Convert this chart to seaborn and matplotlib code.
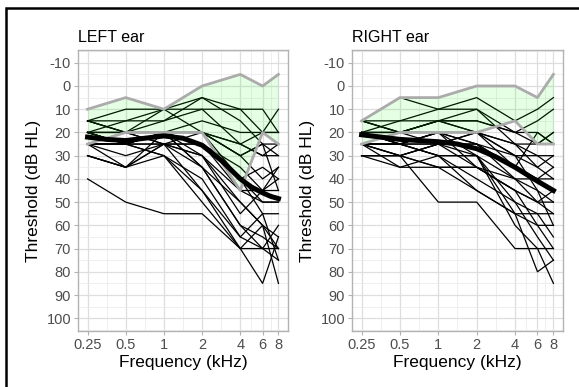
import matplotlib
matplotlib.use("Agg")
import matplotlib.pyplot as plt
import pandas as pd
import seaborn as sns
from matplotlib.patches import Rectangle
from matplotlib.ticker import NullFormatter

# frequencies (kHz) of the audiogram
freqs = [0.25, 0.5, 1, 2, 4, 6, 8]
tick_labels = ["0.25", "0.5", "1", "2", "4", "6", "8"]

# individual thresholds (dB HL), one list per participant
left_ear = [
    [15, 10, 10, 10, 10, 10, 20],
    [15, 15, 10, 5, 10, 20, 10],
    [20, 15, 15, 5, 15, 25, 25],
    [15, 20, 15, 10, 25, 20, 20],
    [20, 20, 20, 15, 20, 20, 20],
    [20, 25, 20, 20, 25, 30, 25],
    [25, 25, 20, 20, 30, 25, 30],
    [20, 20, 25, 25, 35, 45, 45],
    [25, 25, 25, 20, 40, 50, 50],
    [25, 30, 25, 30, 45, 50, 50],
    [20, 25, 20, 35, 50, 60, 65],
    [30, 35, 25, 30, 55, 45, 40],
    [25, 35, 20, 35, 60, 65, 70],
    [30, 35, 30, 40, 65, 70, 75],
    [20, 25, 25, 45, 70, 85, 65],
    [25, 20, 20, 25, 45, 45, 35],
    [40, 50, 55, 55, 70, 70, 70],
    [25, 25, 30, 45, 65, 55, 75],
    [20, 25, 20, 30, 50, 60, 85],
    [15, 20, 25, 35, 60, 70, 60],
    [25, 25, 30, 50, 70, 60, 70],
    [20, 20, 20, 25, 40, 35, 40],
    [25, 25, 20, 20, 30, 40, 35],
    [20, 25, 20, 20, 25, 30, 30],
    [30, 35, 25, 25, 40, 55, 55],
    [15, 20, 10, 20, 30, 25, 45],
]
right_ear = [
    [15, 15, 10, 5, 15, 10, 5],
    [15, 5, 10, 10, 20, 15, 10],
    [20, 15, 15, 15, 20, 25, 20],
    [15, 20, 15, 15, 20, 20, 25],
    [20, 25, 20, 20, 25, 25, 20],
    [25, 25, 25, 20, 30, 30, 35],
    [25, 30, 25, 25, 35, 40, 40],
    [30, 30, 35, 35, 45, 50, 50],
    [20, 25, 30, 45, 55, 55, 55],
    [25, 35, 35, 35, 40, 40, 35],
    [30, 30, 50, 50, 70, 70, 70],
    [25, 25, 20, 30, 55, 80, 75],
    [20, 25, 25, 30, 60, 70, 85],
    [25, 30, 25, 25, 40, 45, 60],
    [20, 20, 20, 25, 35, 40, 45],
    [25, 25, 20, 35, 45, 60, 70],
    [30, 35, 30, 30, 50, 55, 65],
    [20, 20, 25, 20, 25, 35, 30],
    [25, 25, 30, 40, 50, 65, 75],
    [15, 20, 15, 20, 30, 35, 40],
    [25, 30, 25, 35, 45, 50, 55],
    [20, 25, 20, 25, 30, 45, 50],
    [25, 25, 30, 30, 40, 50, 45],
    [20, 20, 15, 20, 35, 20, 25],
    [30, 30, 35, 45, 55, 60, 60],
    [15, 20, 15, 10, 25, 30, 30],
]

# normal range (grey bounds, green band)
left_upper = [10, 5, 10, 0, -5, 0, -5]
left_lower = [25, 20, 20, 20, 45, 20, 25]
right_upper = [15, 5, 5, 0, 0, 5, -5]
right_lower = [25, 20, 20, 20, 15, 25, 25]

smooth_freqs = [0.25, 0.354, 0.5, 0.707, 1, 1.414, 2, 2.828, 4, 4.9, 6, 6.93, 8]
left_smooth = [22, 23, 23.5, 22.5, 21.5, 22.5, 25.5, 32, 40, 43.5, 46, 47.5, 48.5]
right_smooth = [21, 22, 23, 23.5, 24, 25, 27, 30.5, 35, 38, 41, 43, 45]

plt.rcParams["font.family"] = ["Liberation Sans", "DejaVu Sans"]
plt.rcParams["axes.unicode_minus"] = False

fig = plt.figure(figsize=(5.79, 3.87), dpi=100)
ax_l = fig.add_axes([78 / 579, 56 / 387, 210 / 579, 281 / 387])
ax_r = fig.add_axes([352 / 579, 56 / 387, 211 / 579, 281 / 387])

minor_x = [0.354, 0.707, 1.414, 2.828, 4.899, 6.928]
minor_y = list(range(-15, 110, 10))

panels = [
    (ax_l, "LEFT ear", left_ear, left_upper, left_lower, left_smooth),
    (ax_r, "RIGHT ear", right_ear, right_upper, right_lower, right_smooth),
]

for ax, title, ear, upper, lower, smooth in panels:
    rows = []
    for i, person in enumerate(ear):
        for f, v in zip(freqs, person):
            rows.append({"id": i, "freq": f, "db": v})
    df = pd.DataFrame(rows)
    sns.lineplot(
        data=df, x="freq", y="db", units="id", estimator=None,
        color="black", linewidth=0.9, ax=ax, zorder=3, sort=False,
    )
    ax.fill_between(freqs, upper, lower, color="#00ff00", alpha=0.1,
                    linewidth=0, zorder=4)
    sns.lineplot(x=freqs, y=upper, color="#ababab", linewidth=2, ax=ax, zorder=5)
    sns.lineplot(x=freqs, y=lower, color="#ababab", linewidth=2, ax=ax, zorder=5)
    sns.lineplot(x=smooth_freqs, y=smooth, color="black", linewidth=3.6,
                 ax=ax, zorder=6)

    ax.set_xscale("log", base=2)
    ax.set_xlim(0.25 * 2 ** -0.25, 8 * 2 ** 0.25)
    ax.set_ylim(105.5, -15.5)
    ax.set_xticks(freqs)
    ax.set_xticklabels(tick_labels)
    ax.set_xticks(minor_x, minor=True)
    ax.xaxis.set_minor_formatter(NullFormatter())
    ax.set_yticks(range(-10, 101, 10))
    ax.set_yticks(minor_y, minor=True)
    ax.yaxis.set_minor_formatter(NullFormatter())
    ax.tick_params(which="minor", length=0)
    ax.tick_params(which="major", length=3, width=0.8, color="#b3b3b3",
                   labelsize=10.5, labelcolor="#4d4d4d", pad=2)
    ax.grid(which="major", color="#dedede", linewidth=0.9, zorder=0)
    ax.grid(which="minor", color="#ececec", linewidth=0.6, zorder=0)
    ax.set_axisbelow(True)
    for s in ax.spines.values():
        s.set_color("#b3b3b3")
        s.set_linewidth(1.0)
    ax.set_xlabel("Frequency (kHz)", fontsize=12.5, labelpad=2)
    ax.set_ylabel("Threshold (dB HL)", fontsize=12.5, labelpad=4)
    ax.set_title(title, loc="left", fontsize=11.5, pad=6)

# outer frame
fig.patches.append(Rectangle((6 / 579, -0.1), 1.0, 1.1 - 8 / 387,
                             transform=fig.transFigure, fill=False,
                             edgecolor="black", linewidth=1.8))

fig.savefig("out.png", dpi=100)
